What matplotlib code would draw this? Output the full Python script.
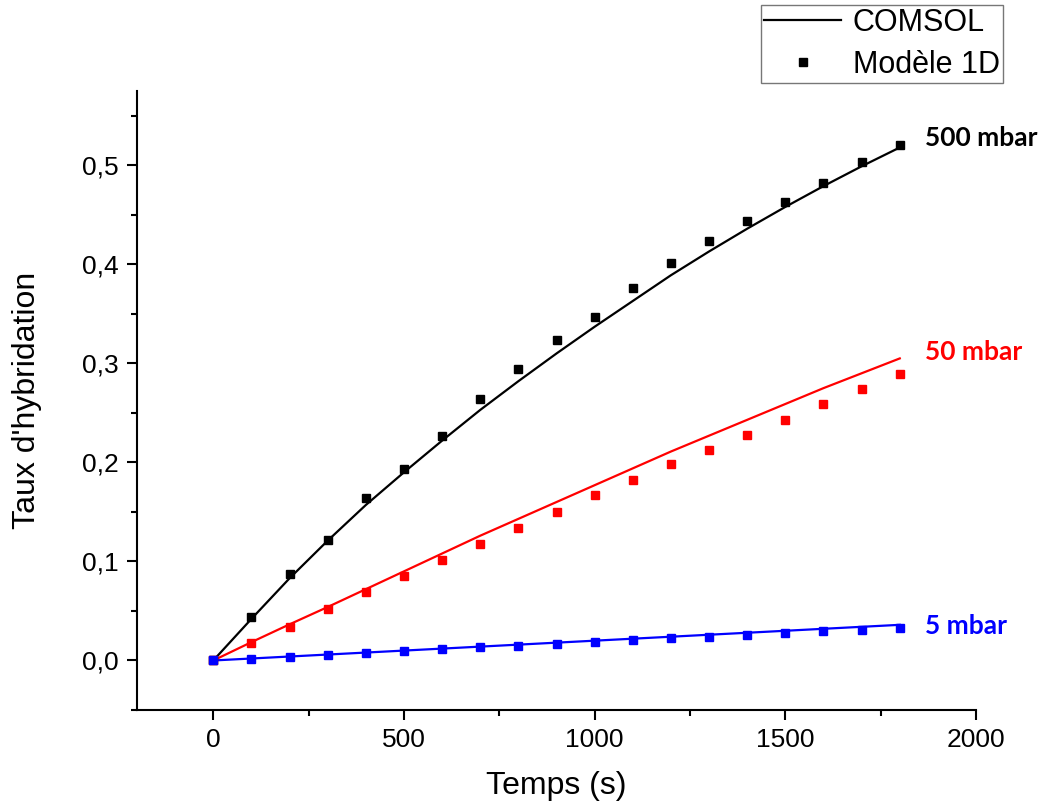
import matplotlib
matplotlib.use("Agg")
import matplotlib.pyplot as plt
from matplotlib.ticker import FuncFormatter, MultipleLocator
from matplotlib.lines import Line2D

# ---- data ----
t = [0, 100, 200, 300, 400, 500, 600, 700, 800, 900, 1000,
     1100, 1200, 1300, 1400, 1500, 1600, 1700, 1800]

comsol_500 = [0, 0.042, 0.083, 0.121, 0.157, 0.190, 0.222, 0.253, 0.282, 0.310,
              0.337, 0.363, 0.389, 0.413, 0.436, 0.458, 0.479, 0.499, 0.518]
model_500 = [0, 0.044, 0.087, 0.122, 0.164, 0.193, 0.227, 0.264, 0.294, 0.324,
             0.347, 0.376, 0.401, 0.424, 0.444, 0.463, 0.482, 0.503, 0.520]

comsol_50 = [0, 0.0185, 0.0365, 0.054, 0.072, 0.090, 0.108, 0.126, 0.143, 0.160,
             0.177, 0.194, 0.211, 0.227, 0.243, 0.259, 0.275, 0.290, 0.305]
model_50 = [0, 0.018, 0.034, 0.0515, 0.069, 0.085, 0.101, 0.118, 0.134, 0.150,
            0.167, 0.182, 0.198, 0.213, 0.228, 0.243, 0.259, 0.274, 0.289]

comsol_5 = [0, 0.002, 0.004, 0.006, 0.008, 0.010, 0.012, 0.014, 0.016, 0.018,
            0.020, 0.022, 0.024, 0.026, 0.028, 0.030, 0.032, 0.034, 0.036]
model_5 = [0, 0.002, 0.004, 0.006, 0.008, 0.0095, 0.0115, 0.0135, 0.015, 0.017,
           0.019, 0.0205, 0.0225, 0.024, 0.026, 0.028, 0.0295, 0.031, 0.033]

series_labels = ["500 mbar", "50 mbar", "5 mbar"]
series_colors = ["black", "#ff0000", "#0000ff"]
label_y = [0.528, 0.311, 0.035]

plt.rcParams['font.family'] = ['Liberation Sans', 'DejaVu Sans']

fig = plt.figure(figsize=(10.41, 8.07), dpi=100)
ax = fig.add_axes([0.1316, 0.1202, 0.806, 0.767])

for c, m, col in zip([comsol_500, comsol_50, comsol_5],
                     [model_500, model_50, model_5], series_colors):
    ax.plot(t, c, color=col, lw=1.6, zorder=2)
    ax.plot(t, m, ls='none', marker='s', ms=6, color=col, zorder=3)

for lab, y, col in zip(series_labels, label_y, series_colors):
    ax.text(1866, y, lab, color=col, fontsize=19, fontweight='bold',
            family=['Lato', 'DejaVu Sans'], va='center', ha='left', clip_on=False)

ax.set_xlim(-200, 2000)
ax.set_ylim(-0.05, 0.575)
ax.xaxis.set_major_locator(MultipleLocator(500))
ax.xaxis.set_minor_locator(MultipleLocator(250))
ax.yaxis.set_major_locator(MultipleLocator(0.1))
ax.yaxis.set_minor_locator(MultipleLocator(0.05))
ax.yaxis.set_major_formatter(FuncFormatter(lambda v, p: f"{v:.1f}".replace('.', ',')))

for s in ['top', 'right']:
    ax.spines[s].set_visible(False)
for s in ['left', 'bottom']:
    ax.spines[s].set_linewidth(1.5)

ax.tick_params(which='major', direction='out', length=7, width=1.5, labelsize=19, pad=6)
ax.tick_params(which='minor', direction='out', length=4, width=1.5)

ax.set_xlabel("Temps (s)", fontsize=23, labelpad=14)
ax.set_ylabel("Taux d'hybridation", fontsize=23, labelpad=29)

handles = [Line2D([], [], color='black', lw=1.6),
           Line2D([], [], color='black', ls='none', marker='s', ms=6)]
leg = fig.legend(handles, ["COMSOL", "Modèle 1D"], loc='upper right',
                 bbox_to_anchor=(0.9635, 0.994), fontsize=22, frameon=True,
                 fancybox=False, edgecolor='#555555', handlelength=2.5,
                 borderpad=0.1, labelspacing=0.38, handletextpad=0.4,
                 borderaxespad=0.0, markerfirst=True)
leg.get_frame().set_linewidth(1.0)

fig.savefig("out.png", dpi=100)
